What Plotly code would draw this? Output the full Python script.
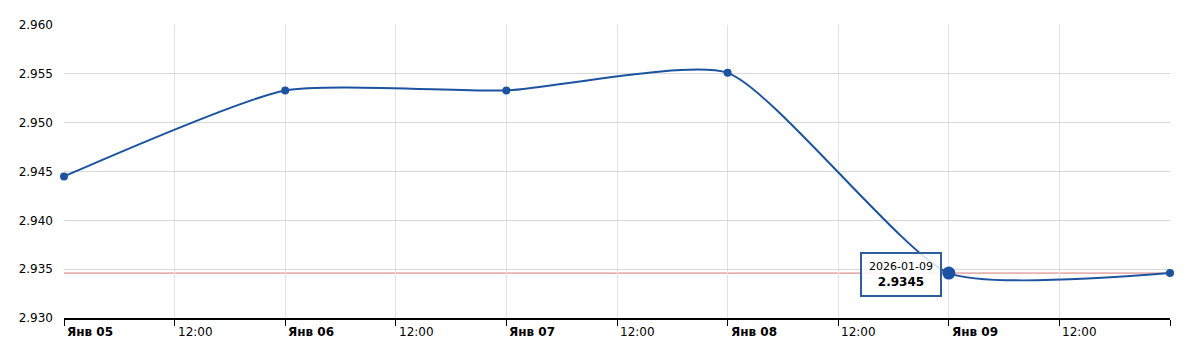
import plotly.graph_objects as go

dates = ["2026-01-05", "2026-01-06", "2026-01-07", "2026-01-08", "2026-01-09", "2026-01-10"]
values = [2.9445, 2.9533, 2.9533, 2.9551, 2.9346, 2.9346]
hover_index = 4
tooltip_value = "2.9345"
tick_vals = ["2026-01-05 00:00", "2026-01-05 12:00", "2026-01-06 00:00", "2026-01-06 12:00",
             "2026-01-07 00:00", "2026-01-07 12:00", "2026-01-08 00:00", "2026-01-08 12:00",
             "2026-01-09 00:00", "2026-01-09 12:00", "2026-01-10 00:00"]
tick_text = ["<b>Янв 05</b>", "12:00", "<b>Янв 06</b>", "12:00", "<b>Янв 07</b>", "12:00",
             "<b>Янв 08</b>", "12:00", "<b>Янв 09</b>", "12:00", ""]
y_ticks = [2.930, 2.935, 2.940, 2.945, 2.950, 2.955, 2.960]

LINE = "#1c53a0"
FONT = "DejaVu Sans, Verdana, sans-serif"

fig = go.Figure()
fig.add_trace(go.Scatter(
    x=dates, y=values, mode="lines+markers",
    line=dict(color=LINE, width=2, shape="spline", smoothing=0.55),
    marker=dict(color=LINE, size=8),
    hoverinfo="skip", showlegend=False, cliponaxis=False,
))
fig.add_trace(go.Scatter(
    x=[dates[hover_index]], y=[values[hover_index]], mode="markers",
    marker=dict(color=LINE, size=13),
    hoverinfo="skip", showlegend=False, cliponaxis=False,
))

# current value line
fig.add_shape(type="line", xref="paper", x0=0, x1=1, yref="y",
              y0=values[-1], y1=values[-1],
              line=dict(color="rgba(205,95,95,0.85)", width=1), layer="below")

# x tick labels left-aligned to ticks
for tv, tt in zip(tick_vals, tick_text):
    if not tt:
        continue
    fig.add_annotation(x=tv, xref="x", y=0, yref="paper", text=tt,
                       showarrow=False, xanchor="left", yanchor="top",
                       xshift=1, yshift=-5,
                       font=dict(family=FONT, size=12, color="#000"))

# tooltip
fig.add_annotation(x=dates[hover_index], xref="x", y=values[hover_index], yref="y",
                   text=f"<span style='font-size:11px'>{dates[hover_index]}</span><br><b>{tooltip_value}</b>",
                   showarrow=False, xanchor="right", yanchor="middle",
                   xshift=-7, yshift=-1, align="center",
                   font=dict(family=FONT, size=12, color="#000"),
                   bgcolor="rgba(255,255,255,0.85)", bordercolor="#2f5e9e",
                   borderwidth=2, borderpad=6, width=66)

fig.update_layout(
    width=1193, height=344,
    margin=dict(l=64, r=23, t=25, b=26),
    paper_bgcolor="white", plot_bgcolor="white",
    font=dict(family=FONT, size=12, color="#000"),
    xaxis=dict(
        type="date", range=["2026-01-05", "2026-01-10"],
        tickvals=tick_vals, ticktext=[""] * len(tick_vals),
        showgrid=True, gridcolor="#e3e3e3", gridwidth=1,
        showline=True, linecolor="#000", linewidth=2,
        ticks="outside", ticklen=6, tickcolor="#000", tickwidth=1,
        zeroline=False, fixedrange=True,
    ),
    yaxis=dict(
        range=[2.930, 2.960], tickvals=y_ticks,
        tickformat=".3f", showgrid=True, gridcolor="#d8d8d8", gridwidth=1,
        showline=False, zeroline=False, ticks="",
        ticklabelstandoff=10, fixedrange=True,
        tickfont=dict(family=FONT, size=12, color="#000"),
    ),
)

fig.write_html("out.html")
